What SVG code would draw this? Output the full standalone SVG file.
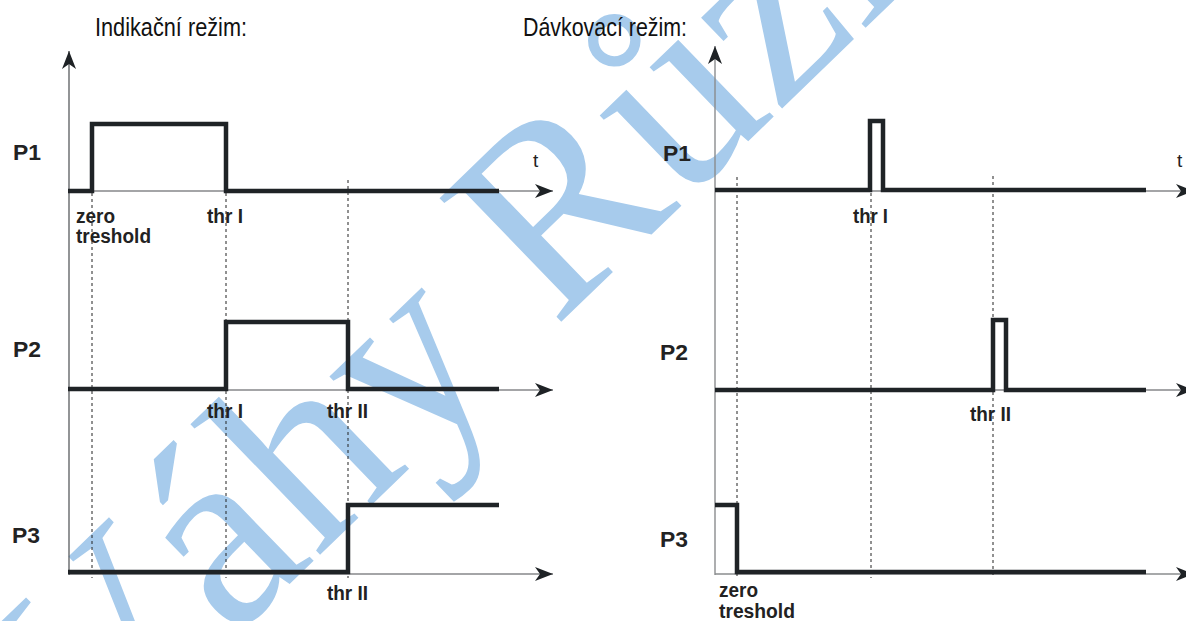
<svg xmlns="http://www.w3.org/2000/svg" width="1186" height="621" viewBox="0 0 1186 621">
<defs>
<marker id="arr" viewBox="0 0 18 14" refX="18" refY="7" markerWidth="18" markerHeight="14" markerUnits="userSpaceOnUse" orient="auto">
<path d="M0,0 L18,7 L0,14 L5,7 Z" fill="#1e2225"/>
</marker>
<style>
.ax{stroke:#4a4d50;stroke-width:1.2;fill:none}
.axg{stroke:#8a8c8e;stroke-width:1.4;fill:none}
.sig{stroke:#1f2326;stroke-width:4.5;fill:none;stroke-linejoin:miter;stroke-linecap:butt}
.dash{stroke:#222;stroke-width:1;stroke-dasharray:3,3;fill:none}
.title{font-family:"Liberation Sans",Arial,sans-serif;font-size:25px;fill:#111}
.p{font-family:"Liberation Sans",Arial,sans-serif;font-size:22px;font-weight:bold;fill:#222}
.lb{font-family:"Liberation Sans",Arial,sans-serif;font-size:20px;font-weight:bold;fill:#222}
.t{font-family:"Liberation Sans",Arial,sans-serif;font-size:19px;fill:#222}
.wm{font-family:"Liberation Serif","Times New Roman",serif;font-size:265px;fill:#a7cbec}
</style>
</defs>
<rect width="1186" height="621" fill="#fff"/>
<g id="watermark">
<text class="wm" transform="translate(94,773) rotate(-44)">Váhy Růžička</text>
</g>
<g id="titles">
<text class="title" x="95" y="36" textLength="152" lengthAdjust="spacingAndGlyphs">Indikační režim:</text>
<text class="title" x="523" y="36" textLength="164" lengthAdjust="spacingAndGlyphs">Dávkovací režim:</text>
</g>
<g id="connectors">
<line class="ax" x1="69" y1="575" x2="69" y2="51" marker-end="url(#arr)"/>
<line class="ax" x1="69" y1="191" x2="553" y2="191" marker-end="url(#arr)"/>
<line class="ax" x1="69" y1="390" x2="553" y2="390" marker-end="url(#arr)"/>
<line class="ax" x1="69" y1="574" x2="553" y2="574" marker-end="url(#arr)"/>
<line class="axg" x1="715" y1="575" x2="715" y2="46" marker-end="url(#arr)"/>
<line class="ax" x1="715" y1="191" x2="1194" y2="191" marker-end="url(#arr)"/>
<line class="ax" x1="715" y1="390" x2="1194" y2="390" marker-end="url(#arr)"/>
<line class="axg" x1="715" y1="574" x2="1194" y2="574" marker-end="url(#arr)"/>
<line class="dash" x1="92" y1="193" x2="92" y2="578"/>
<line class="dash" x1="226" y1="193" x2="226" y2="578"/>
<line class="dash" x1="348" y1="180" x2="348" y2="578"/>
<line class="dash" x1="737" y1="177" x2="737" y2="578"/>
<line class="dash" x1="871" y1="193" x2="871" y2="578"/>
<line class="dash" x1="993" y1="176" x2="993" y2="578"/>
</g>
<g id="left-P1">
<polyline class="sig" points="68,191 92,191 92,124 226,124 226,191 499,191"/>
<text class="p" x="13" y="160" textLength="28" lengthAdjust="spacingAndGlyphs">P1</text>
<text class="t" x="533" y="167">t</text>
<text class="lb" x="76" y="223" textLength="39" lengthAdjust="spacingAndGlyphs">zero</text>
<text class="lb" x="76" y="243" textLength="75" lengthAdjust="spacingAndGlyphs">treshold</text>
<text class="lb" x="207" y="223" textLength="36" lengthAdjust="spacingAndGlyphs">thr I</text>
</g>
<g id="left-P2">
<polyline class="sig" points="68,389 226,389 226,322 348,322 348,389 499,389"/>
<text class="p" x="13" y="357" textLength="28" lengthAdjust="spacingAndGlyphs">P2</text>
<text class="lb" x="207" y="418" textLength="36" lengthAdjust="spacingAndGlyphs">thr I</text>
<text class="lb" x="327" y="418" textLength="41" lengthAdjust="spacingAndGlyphs">thr II</text>
</g>
<g id="left-P3">
<polyline class="sig" points="68,572 348,572 348,505 499,505"/>
<text class="p" x="12" y="543" textLength="28" lengthAdjust="spacingAndGlyphs">P3</text>
<text class="lb" x="327" y="600" textLength="41" lengthAdjust="spacingAndGlyphs">thr II</text>
</g>
<g id="right-P1">
<polyline class="sig" points="715,190 870,190 870,121 883,121 883,190 1146,190"/>
<text class="p" x="663" y="161" textLength="28" lengthAdjust="spacingAndGlyphs">P1</text>
<text class="t" x="1177" y="167">t</text>
<text class="lb" x="853" y="223" textLength="35" lengthAdjust="spacingAndGlyphs">thr I</text>
</g>
<g id="right-P2">
<polyline class="sig" points="715,390 993,390 993,320 1006,320 1006,390 1146,390"/>
<text class="p" x="660" y="360" textLength="28" lengthAdjust="spacingAndGlyphs">P2</text>
<text class="lb" x="970" y="421" textLength="41" lengthAdjust="spacingAndGlyphs">thr II</text>
</g>
<g id="right-P3">
<polyline class="sig" points="715,505 737,505 737,572 1146,572"/>
<text class="p" x="660" y="547" textLength="28" lengthAdjust="spacingAndGlyphs">P3</text>
<text class="lb" x="719" y="597" textLength="39" lengthAdjust="spacingAndGlyphs">zero</text>
<text class="lb" x="719" y="618" textLength="76" lengthAdjust="spacingAndGlyphs">treshold</text>
</g>
</svg>
